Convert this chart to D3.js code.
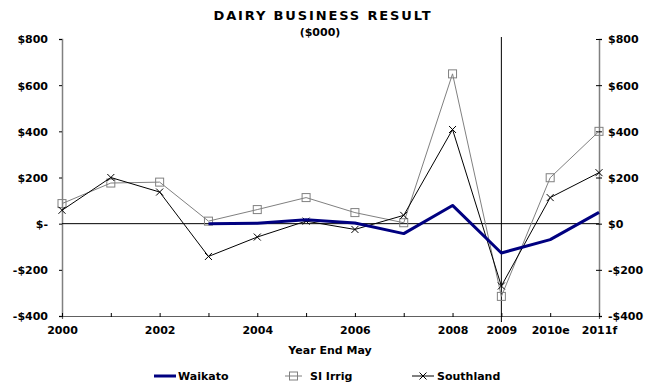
<!DOCTYPE html>
<html><head><meta charset="utf-8">
<script src="https://cdn.jsdelivr.net/npm/d3@7"></script>
<style>body{margin:0;background:#fff}svg{display:block}text{font-family:"DejaVu Sans",Verdana,sans-serif;font-weight:bold;fill:#000}</style>
</head><body><svg id="c" width="655" height="383"></svg>
<script>
const categories = ["2000","2001","2002","2003","2004","2005","2006","2007","2008","2009","2010e","2011f"];
const shownLabels = ["2000","2002","2004","2006","2008","2009","2010e","2011f"];
const waikato = [null,null,null,0,2,17,3,-43,79,-127,-69,49];
const siIrrig = [87,176,180,11,61,113,48,4,649,-315,199,400];
const southland = [58,200,137,-142,-58,11,-25,36,408,-270,113,221];
const yTicks = [-400,-200,0,200,400,600,800];
const leftTickLabels = ["-$400","-$200","$-","$200","$400","$600","$800"];
const rightTickLabels = ["-$400","-$200","$0","$200","$400","$600","$800"];
const markerCategory = "2009";

const FS = 11;
const svg = d3.select("#c");
const x = d3.scalePoint().domain(categories).range([62, 599]);
const y = d3.scaleLinear().domain([-400, 800]).range([316, 39]);

// title
svg.append("text").attr("x", 322).attr("y", 20).attr("text-anchor","middle")
  .attr("font-size", 13).attr("textLength", 217).attr("lengthAdjust","spacing").text("DAIRY BUSINESS RESULT");
svg.append("text").attr("x", 320).attr("y", 36).attr("text-anchor","middle")
  .attr("font-size", FS).text("($000)");

// left axis
const gL = svg.append("g").attr("transform","translate(62,0)")
  .call(d3.axisLeft(y).tickValues(yTicks).tickSize(3).tickFormat((d,i)=>leftTickLabels[i]));
gL.select(".domain").attr("stroke","#808080").attr("stroke-width",1.5);
gL.selectAll(".tick line").attr("stroke","#000");
gL.selectAll("text").attr("font-size",FS).attr("x",-14).attr("dy","0.35em").style("font-family",'"DejaVu Sans",Verdana,sans-serif').style("font-weight","bold");

// right axis
const gR = svg.append("g").attr("transform","translate(599,0)")
  .call(d3.axisRight(y).tickValues(yTicks).tickSize(3).tickFormat((d,i)=>rightTickLabels[i]));
gR.select(".domain").attr("stroke","#808080").attr("stroke-width",1.5);
gR.selectAll(".tick line").attr("x1",-3).attr("stroke","#000");
gR.selectAll("text").attr("font-size",FS).attr("x",9).attr("dy","0.35em").style("font-family",'"DejaVu Sans",Verdana,sans-serif').style("font-weight","bold");

// bottom axis
const gB = svg.append("g").attr("transform","translate(0,316)")
  .call(d3.axisBottom(x).tickSize(3).tickFormat(d => shownLabels.includes(d) ? d : ""));
gB.select(".domain").attr("stroke","#606060").attr("stroke-width",1.2);
gB.selectAll(".tick line").attr("y1",-3).attr("y2",1).attr("stroke","#000");
gB.selectAll("text").attr("font-size",FS).attr("y",10).attr("dy","0.71em").style("font-family",'"DejaVu Sans",Verdana,sans-serif').style("font-weight","bold");

// zero line
svg.append("line").attr("x1",62).attr("x2",599).attr("y1",y(0)).attr("y2",y(0)).attr("stroke","#000").attr("stroke-width",1);

// 2009 vertical line
svg.append("line").attr("x1",x(markerCategory)).attr("x2",x(markerCategory))
  .attr("y1",37).attr("y2",322).attr("stroke","#000").attr("stroke-width",1);

const line = d3.line().defined(d=>d[1]!==null).x(d=>x(d[0])).y(d=>y(d[1]));
const pairs = arr => categories.map((c,i)=>[c,arr[i]]);

// SI Irrig
svg.append("path").datum(pairs(siIrrig)).attr("d",line).attr("fill","none").attr("stroke","#808080").attr("stroke-width",1);
svg.append("g").selectAll("rect").data(pairs(siIrrig)).join("rect")
  .attr("x",d=>x(d[0])-4).attr("y",d=>y(d[1])-4).attr("width",8).attr("height",8)
  .attr("fill","none").attr("stroke","#808080").attr("stroke-width",1);

// Southland
svg.append("path").datum(pairs(southland)).attr("d",line).attr("fill","none").attr("stroke","#000").attr("stroke-width",1);
const xs = 3.5;
svg.append("g").selectAll("path").data(pairs(southland)).join("path")
  .attr("d",d=>{const cx=x(d[0]),cy=y(d[1]);return `M${cx-xs},${cy-xs}L${cx+xs},${cy+xs}M${cx-xs},${cy+xs}L${cx+xs},${cy-xs}`;})
  .attr("stroke","#000").attr("stroke-width",1);

// Waikato
svg.append("path").datum(pairs(waikato)).attr("d",line).attr("fill","none").attr("stroke","#000080").attr("stroke-width",3).attr("stroke-linejoin","round");

// axis title
svg.append("text").attr("x",330).attr("y",354).attr("text-anchor","middle").attr("font-size",FS).text("Year End May");

// legend
const ly = 376;
svg.append("line").attr("x1",154).attr("x2",176).attr("y1",ly).attr("y2",ly).attr("stroke","#000080").attr("stroke-width",3);
svg.append("text").attr("x",178).attr("y",ly+4).attr("font-size",FS).text("Waikato");
svg.append("line").attr("x1",285).attr("x2",302).attr("y1",ly).attr("y2",ly).attr("stroke","#808080");
svg.append("rect").attr("x",289.5).attr("y",ly-4).attr("width",8).attr("height",8).attr("fill","none").attr("stroke","#808080");
svg.append("text").attr("x",310).attr("y",ly+4).attr("font-size",FS).text("SI Irrig");
svg.append("line").attr("x1",412).attr("x2",434).attr("y1",ly).attr("y2",ly).attr("stroke","#000");
svg.append("path").attr("d",`M${423-xs},${ly-xs}L${423+xs},${ly+xs}M${423-xs},${ly+xs}L${423+xs},${ly-xs}`).attr("stroke","#000");
svg.append("text").attr("x",437).attr("y",ly+4).attr("font-size",FS).text("Southland");
</script></body></html>
